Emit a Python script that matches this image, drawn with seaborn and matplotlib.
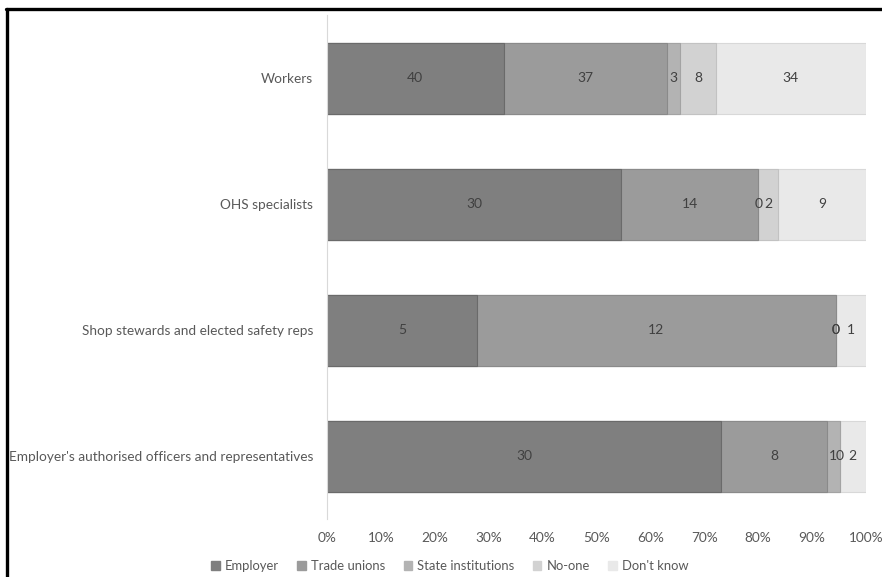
import numpy as np
import pandas as pd
import matplotlib
matplotlib.use("Agg")
import matplotlib.pyplot as plt
from matplotlib.lines import Line2D
from matplotlib.patches import Patch
import seaborn as sns

groups = ["Workers", "OHS specialists", "Shop stewards and elected safety reps",
          "Employer's authorised officers and representatives"]
series = ["Employer", "Trade unions", "State institutions", "No-one", "Don't know"]
employer = [40, 30, 5, 30]
trade_unions = [37, 14, 12, 8]
state_institutions = [3, 0, 0, 1]
no_one = [8, 2, 0, 0]
dont_know = [34, 9, 1, 2]
x_ticks = [0, 10, 20, 30, 40, 50, 60, 70, 80, 90, 100]

colors = ["#7f7f7f", "#9b9b9b", "#b3b3b3", "#d2d2d2", "#e9e9e9"]
edges = ["#6a6a6a", "#8a8a8a", "#a3a3a3", "#c2c2c2", "#d8d8d8"]

counts = np.array([employer, trade_unions, state_institutions, no_one, dont_know], dtype=float)
totals = counts.sum(axis=0)
pct = counts / totals * 100
cum = np.cumsum(pct, axis=0)

sns.set_theme(style="white")
plt.rcParams["font.family"] = ["Lato", "DejaVu Sans"]

fig = plt.figure(figsize=(8.82, 5.77), dpi=100)
ax = fig.add_axes([0.3707, 0.0997, 0.6111, 0.8735])

# stacked bars: draw cumulative totals from the outermost layer inwards
for i in range(len(series) - 1, -1, -1):
    df = pd.DataFrame({"group": groups, "value": cum[i]})
    sns.barplot(data=df, x="value", y="group", orient="h", color=colors[i],
                width=0.565, edgecolor=edges[i], linewidth=0.8, ax=ax,
                saturation=1)

# value labels centred in each segment
for i in range(len(series)):
    for j in range(len(groups)):
        start = cum[i, j] - pct[i, j]
        centre = start + pct[i, j] / 2
        ax.text(centre, j, f"{int(counts[i, j])}", ha="center", va="center",
                fontsize=10, color="#404040")

ax.set_xlim(0, 100)
ax.set_ylim(3.5, -0.5)
ax.set_xticks(x_ticks)
ax.set_xticklabels([f"{t}%" for t in x_ticks], fontsize=9.8, color="#595959")
ax.tick_params(axis="y", labelsize=9.8, labelcolor="#595959", length=0, pad=10)
ax.tick_params(axis="x", length=0, pad=9)
ax.set_xlabel("")
ax.set_ylabel("")
for side in ["top", "right", "bottom"]:
    ax.spines[side].set_visible(False)
ax.spines["left"].set_color("#d9d9d9")
ax.spines["left"].set_linewidth(0.8)

handles = [Patch(facecolor=colors[i], edgecolor=colors[i], label=series[i])
           for i in range(len(series))]
fig.legend(handles=handles, loc="center", bbox_to_anchor=(0.51, 0.019), ncol=5,
           frameon=False, fontsize=9.4, handlelength=0.65, handleheight=0.65,
           handletextpad=0.4, columnspacing=1.4, labelcolor="#595959")

# outer frame lines along the top and left edges
fig.add_artist(Line2D([6 / 882, 1], [1 - 9 / 577, 1 - 9 / 577], color="black",
                      linewidth=2.4, transform=fig.transFigure))
fig.add_artist(Line2D([7 / 882, 7 / 882], [0, 1 - 9 / 577], color="black",
                      linewidth=2.4, transform=fig.transFigure))

fig.savefig("out.png", dpi=100)
